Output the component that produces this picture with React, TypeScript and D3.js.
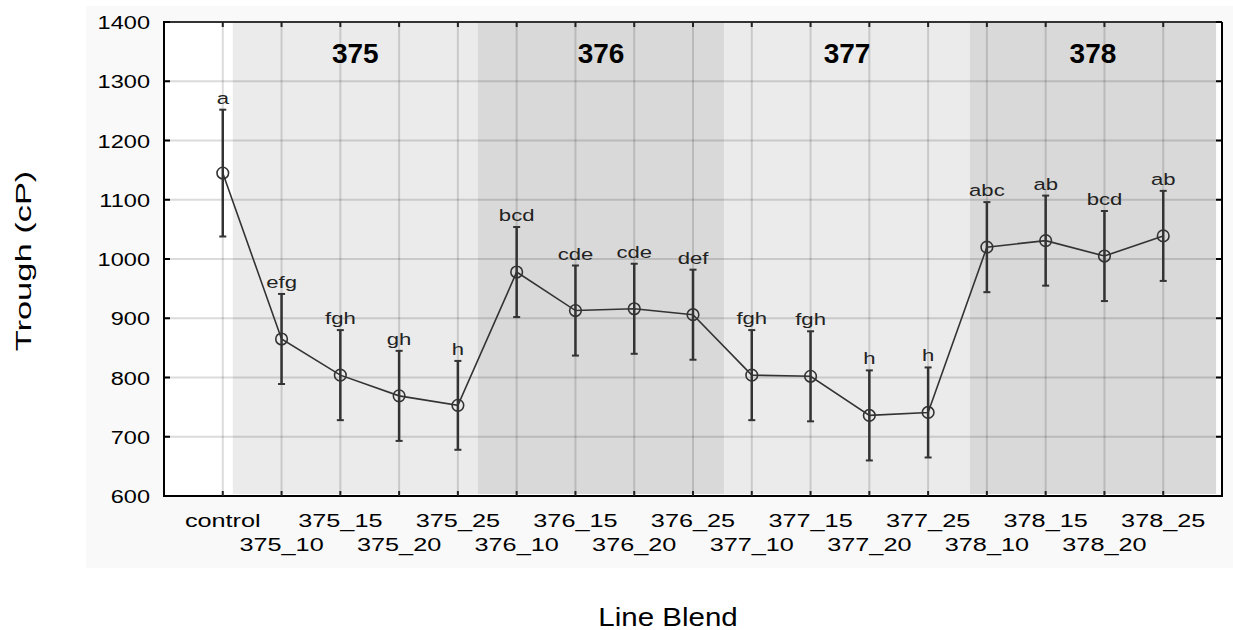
import React from "react";
import * as d3 from "d3";

// Trough viscosity (cP) per line blend, with error half-widths and grouping letters
const categories = [
  "control",
  "375_10", "375_15", "375_20", "375_25",
  "376_10", "376_15", "376_20", "376_25",
  "377_10", "377_15", "377_20", "377_25",
  "378_10", "378_15", "378_20", "378_25",
];
const means = [1145, 865, 804, 769, 753, 978, 913, 916, 906, 804, 802, 736, 741, 1020, 1031, 1005, 1039];
const errors = [107, 76, 76, 76, 75, 76, 76, 76, 76, 76, 76, 76, 76, 76, 76, 76, 76];
const letters = ["a", "efg", "fgh", "gh", "h", "bcd", "cde", "cde", "def", "fgh", "fgh", "h", "h", "abc", "ab", "bcd", "ab"];

// Line groups: shaded span given in category-index units
const groups = ["375", "376", "377", "378"];
const groupStart = [0.17, 4.34, 8.53, 12.71];
const groupEnd = [4.34, 8.53, 12.71, 16.9];
const groupFill = ["#ebebeb", "#d9d9d9", "#ebebeb", "#d9d9d9"];

const yTicks = [600, 700, 800, 900, 1000, 1100, 1200, 1300, 1400];

const W = 1233;
const H = 630;
const left = 164;
const right = 1222;
const top = 22;
const bottom = 496;
const font = "'Liberation Sans', Arial, sans-serif";

// Text drawn with a horizontal stretch about its anchor point
function WideText(props: {
  x: number;
  y: number;
  sx: number;
  size: number;
  anchor?: string;
  weight?: string;
  fill?: string;
  rotate?: number;
  children: React.ReactNode;
}) {
  const { x, y, sx, size, anchor = "middle", weight = "normal", fill = "#000", rotate = 0, children } = props;
  return (
    <text
      transform={`translate(${x},${y}) rotate(${rotate}) scale(${sx},1)`}
      textAnchor={anchor}
      fontFamily={font}
      fontSize={size}
      fontWeight={weight}
      fill={fill}
    >
      {children}
    </text>
  );
}

export default function App() {
  const x = d3.scalePoint<string>().domain(categories).range([left, right]).padding(1);
  const step = x.step();
  const xi = (i: number) => (x(categories[0]) as number) + i * step;
  const y = d3.scaleLinear().domain([600, 1400]).range([bottom, top]);

  const line = d3
    .line<number>()
    .x((_, i) => x(categories[i]) as number)
    .y((d) => y(d));

  return (
    <svg width={W} height={H} style={{ position: "absolute", left: 0, top: 0, background: "#fff" }}>
      <rect x={86} y={6} width={W - 86} height={562} fill="#f9f9f9" />
      <rect x={left} y={top} width={right - left} height={bottom - top} fill="#fff" />

      {groups.map((g, i) => (
        <rect
          key={g}
          x={xi(groupStart[i])}
          y={top}
          width={xi(groupEnd[i]) - xi(groupStart[i])}
          height={bottom - top - 2}
          fill={groupFill[i]}
        />
      ))}

      {/* grid */}
      {yTicks.map((t) => (
        <line key={"gy" + t} x1={left} x2={right} y1={y(t)} y2={y(t)} stroke="#000" strokeOpacity={0.14} strokeWidth={2} />
      ))}
      {categories.map((c) => (
        <line key={"gx" + c} x1={x(c)} x2={x(c)} y1={top} y2={bottom} stroke="#000" strokeOpacity={0.14} strokeWidth={2} />
      ))}

      {groups.map((g, i) => (
        <text
          key={"gl" + g}
          x={(xi(groupStart[i]) + xi(groupEnd[i])) / 2}
          y={63}
          textAnchor="middle"
          fontFamily={font}
          fontWeight="bold"
          fontSize={28}
          fill="#000"
        >
          {g}
        </text>
      ))}

      {/* error bars */}
      {categories.map((c, i) => {
        const cx = x(c) as number;
        const hi = y(means[i] + errors[i]);
        const lo = y(means[i] - errors[i]);
        return (
          <g key={"e" + c} stroke="#333" strokeWidth={2.5}>
            <line x1={cx} x2={cx} y1={hi} y2={lo} />
            <line x1={cx - 3.5} x2={cx + 3.5} y1={hi} y2={hi} strokeWidth={2} />
            <line x1={cx - 3.5} x2={cx + 3.5} y1={lo} y2={lo} strokeWidth={2} />
          </g>
        );
      })}

      <path d={line(means) ?? ""} fill="none" stroke="#333" strokeWidth={1.6} />

      {categories.map((c, i) => (
        <circle key={"p" + c} cx={x(c)} cy={y(means[i])} r={5.8} fill="none" stroke="#333" strokeWidth={1.6} />
      ))}

      {categories.map((c, i) => (
        <WideText key={"l" + c} x={x(c) as number} y={y(means[i] + errors[i]) - 6} sx={1.3} size={17} fill="#222">
          {letters[i]}
        </WideText>
      ))}

      {/* frame and inward ticks */}
      <line x1={left} x2={right} y1={top} y2={top} stroke="#333" strokeWidth={2} />
      <line x1={right} x2={right} y1={top} y2={bottom} stroke="#000" strokeWidth={2} />
      <line x1={left} x2={left} y1={top - 1} y2={bottom + 1} stroke="#000" strokeWidth={2} />
      <line x1={left} x2={right + 1} y1={bottom} y2={bottom} stroke="#000" strokeWidth={2} />
      {categories.map((c) => (
        <g key={"t" + c} stroke="#222" strokeWidth={2}>
          <line x1={x(c)} x2={x(c)} y1={top} y2={top + 5} />
          <line x1={x(c)} x2={x(c)} y1={bottom} y2={bottom - 5} />
        </g>
      ))}
      {yTicks.map((t) => (
        <g key={"yt" + t} stroke="#000" strokeWidth={2}>
          <line x1={left} x2={left + 6} y1={y(t)} y2={y(t)} />
          <line x1={right} x2={right - 6} y1={y(t)} y2={y(t)} />
        </g>
      ))}

      {/* axis labels */}
      {yTicks.map((t) => (
        <WideText key={"yl" + t} x={150} y={y(t) + 7} sx={1.24} size={19} anchor="end">
          {t}
        </WideText>
      ))}
      {categories.map((c, i) => (
        <WideText key={"xl" + c} x={x(c) as number} y={i % 2 === 0 ? 527 : 551} sx={1.33} size={19}>
          {c}
        </WideText>
      ))}

      <WideText x={668} y={626} sx={1.18} size={25}>
        Line Blend
      </WideText>
      <WideText x={31} y={261} sx={1.5} size={23} rotate={-90}>
        Trough (cP)
      </WideText>
    </svg>
  );
}
